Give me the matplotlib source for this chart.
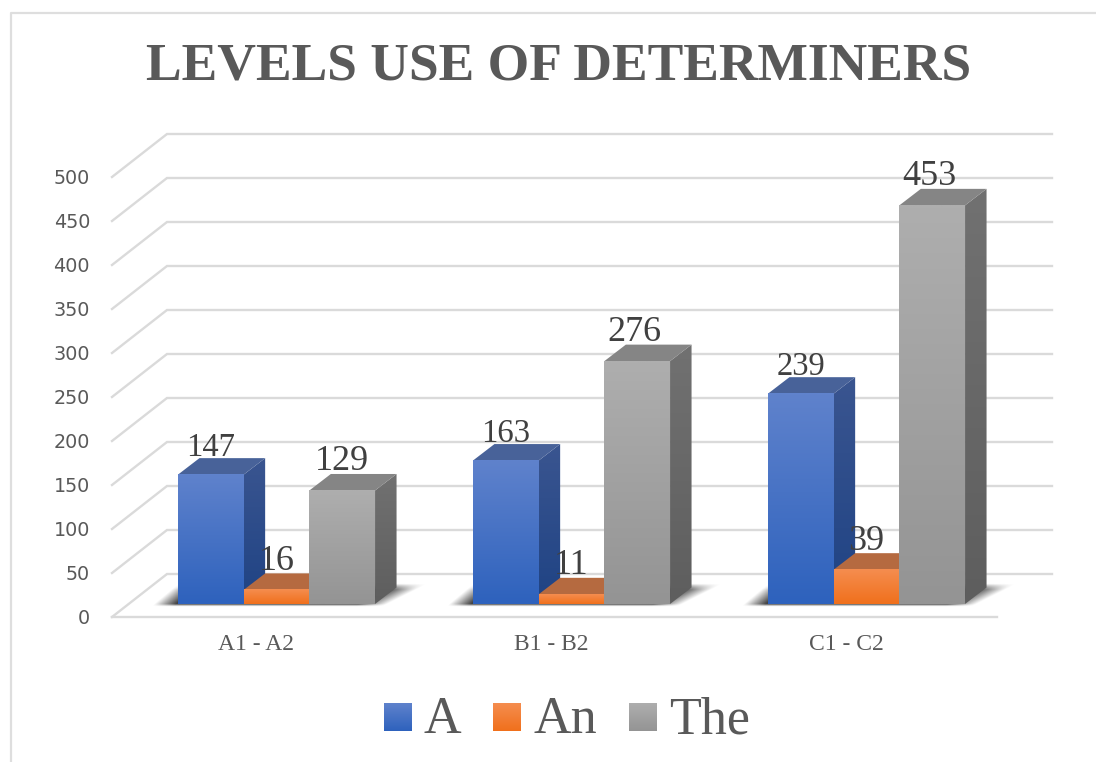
import matplotlib
matplotlib.use('Agg')
import matplotlib.pyplot as plt
from matplotlib.lines import Line2D
from matplotlib.patches import Polygon
import numpy as np

categories = ['A1 - A2', 'B1 - B2', 'C1 - C2']
series_names = ['A', 'An', 'The']
series_values = {
    'A': [147, 163, 239],
    'An': [16, 11, 39],
    'The': [129, 276, 453],
}
y_ticks = [0, 50, 100, 150, 200, 250, 300, 350, 400, 450, 500]
title = 'LEVELS USE OF DETERMINERS'

W, H = 1096, 762
PX_PER_UNIT = 0.88   # vertical pixels per value
GROUP_PX = 295
BASE_Y = 604
FIRST_CENTER = 276.5
BAR_W = 65.7 / GROUP_PX

plt.rcParams['font.family'] = ['Liberation Serif', 'DejaVu Serif']

# front face (top, bottom), top face, side face top/bottom
colors = {
    'A': ('#5f82cc', '#2e62bd', '#486299', '#3a5590', '#1f4384'),
    'An': ('#f58d4f', '#f0701c', '#b56a40', '#b56a40', '#a85a28'),
    'The': ('#aeaeae', '#949494', '#858585', '#717171', '#5e5e5e'),
}

fig = plt.figure(figsize=(W / 100, H / 100), dpi=100)
ax = fig.add_axes([0, 0, 1, 1])
ax.axis('off')


def px_x(dx):
    return dx / GROUP_PX


def px_y(dy):
    return dy / PX_PER_UNIT


def gradient(c_top, c_bottom, extent, clip=None, zorder=3):
    c0 = np.array(matplotlib.colors.to_rgb(c_top))
    c1 = np.array(matplotlib.colors.to_rgb(c_bottom))
    t = np.linspace(0, 1, 64)[:, None]
    img = (c0 * (1 - t) + c1 * t)[:, None, :]
    im = ax.imshow(img, extent=extent, aspect='auto', zorder=zorder, origin='upper',
                   interpolation='bilinear')
    if clip is not None:
        im.set_clip_path(Polygon(clip, transform=ax.transData))
    return im


def floor_shadow(x0, x1):
    # soft dark patch on the floor, sheared towards the back wall
    pad = 70
    xs = np.arange(-pad, (x1 - x0) * GROUP_PX + pad, 1.0)
    ys = np.arange(-3.0, 22.0, 0.5)
    gx, gy = np.meshgrid(xs, ys)
    width = (x1 - x0) * GROUP_PX
    left = np.clip((gx + 24 - 1.2 * gy) / 22, 0, 1)
    right = np.clip((width + 12 + 2.0 * gy - gx) / 28, 0, 1)
    rear = np.clip((20 - gy) / 6, 0, 1)
    front = np.clip((gy + 2.5) / 2.5, 0, 1)
    rgba = np.zeros(gx.shape + (4,))
    rgba[..., :3] = 0.25
    rgba[..., 3] = left * right * rear * front
    ax.imshow(rgba, extent=(x0 + px_x(xs[0]), x0 + px_x(xs[-1]), px_y(ys[0]), px_y(ys[-1])),
              aspect='auto', origin='lower', zorder=2, interpolation='bilinear')


# outer frame of the chart, only top and left show
frame_c = '#dedede'
fig.add_artist(Line2D([11 / W, 11 / W, 1], [0, 1 - 13 / H, 1 - 13 / H],
                      color=frame_c, lw=1.6, transform=fig.transFigure))

# wall gridlines and floor edges
grid_c = '#dadada'
left_front = px_x(112 - FIRST_CENTER)
right_front = px_x(997 - FIRST_CENTER)
left_back = px_x(167 - FIRST_CENTER)
right_back = px_x(1052 - FIRST_CENTER)
front_off = px_y(-13)
back_off = px_y(30)
for v in y_ticks:
    ax.plot([left_front, left_back, right_back],
            [v + front_off, v + back_off, v + back_off],
            color=grid_c, lw=1.7, zorder=1, solid_joinstyle='miter')
    ax.text(px_x(90 - FIRST_CENTER), v + front_off - px_y(1.5), str(v),
            ha='right', va='center', fontsize=13.8, color='#595959',
            family=['DejaVu Sans'])
ax.plot([left_front, right_front], [front_off, front_off], color=grid_c, lw=1.7, zorder=1)

# bars, drawn left to right so the neighbours overlap correctly
dx = px_x(21.5)
dy = px_y(16.5)
for i, cat in enumerate(categories):
    floor_shadow(i - 1.5 * BAR_W, i + 1.5 * BAR_W)
    for j, name in enumerate(series_names):
        v = series_values[name][i]
        x0 = i + (j - 1.5) * BAR_W
        x1 = x0 + BAR_W
        c_top, c_bot, c_lid, c_s0, c_s1 = colors[name]
        z = 3 + j
        side = [(x1, 0), (x1 + dx, dy), (x1 + dx, v + dy), (x1, v)]
        gradient(c_s0, c_s1, (x1, x1 + dx, 0, v + dy), clip=side, zorder=z)
        lid = [(x0, v), (x1, v), (x1 + dx, v + dy), (x0 + dx, v + dy)]
        ax.add_patch(Polygon(lid, closed=True, fc=c_lid, ec='none', zorder=z))
        gradient(c_top, c_bot, (x0, x1, 0, v), zorder=z + 0.1)
        big = v in (16, 11, 39, 129, 276, 453)
        ax.text(x0 + BAR_W / 2 - px_x(3 if v in (276, 453) else 0), v + px_y(12), str(v),
                ha='center', va='bottom', fontsize=26 if big else 23.5,
                color='#404040', zorder=8)
    ax.text(i - px_x(20), px_y(BASE_Y - 645), cat, ha='center', va='center',
            fontsize=17, color='#595959')

# title
ax.text(px_x(559 - FIRST_CENTER), px_y(BASE_Y - 80), title, ha='center', va='baseline',
        fontsize=38.5, fontweight='bold', color='#595959')

# legend
legend_x = [384, 493, 629]
for name, lx in zip(series_names, legend_x):
    c = colors[name]
    gradient(c[0], c[1], (px_x(lx - FIRST_CENTER), px_x(lx + 28 - FIRST_CENTER),
                          px_y(BASE_Y - 731), px_y(BASE_Y - 703)), zorder=3)
    ax.text(px_x(lx + 40 - FIRST_CENTER), px_y(BASE_Y - 733), name, ha='left', va='baseline',
            fontsize=37.5, color='#595959')

# imshow resets the limits, so fix them last
ax.set_xlim((0 - FIRST_CENTER) / GROUP_PX, (W - FIRST_CENTER) / GROUP_PX)
ax.set_ylim((BASE_Y - H) / PX_PER_UNIT, BASE_Y / PX_PER_UNIT)

fig.savefig('out.png', dpi=100)
plt.close(fig)
